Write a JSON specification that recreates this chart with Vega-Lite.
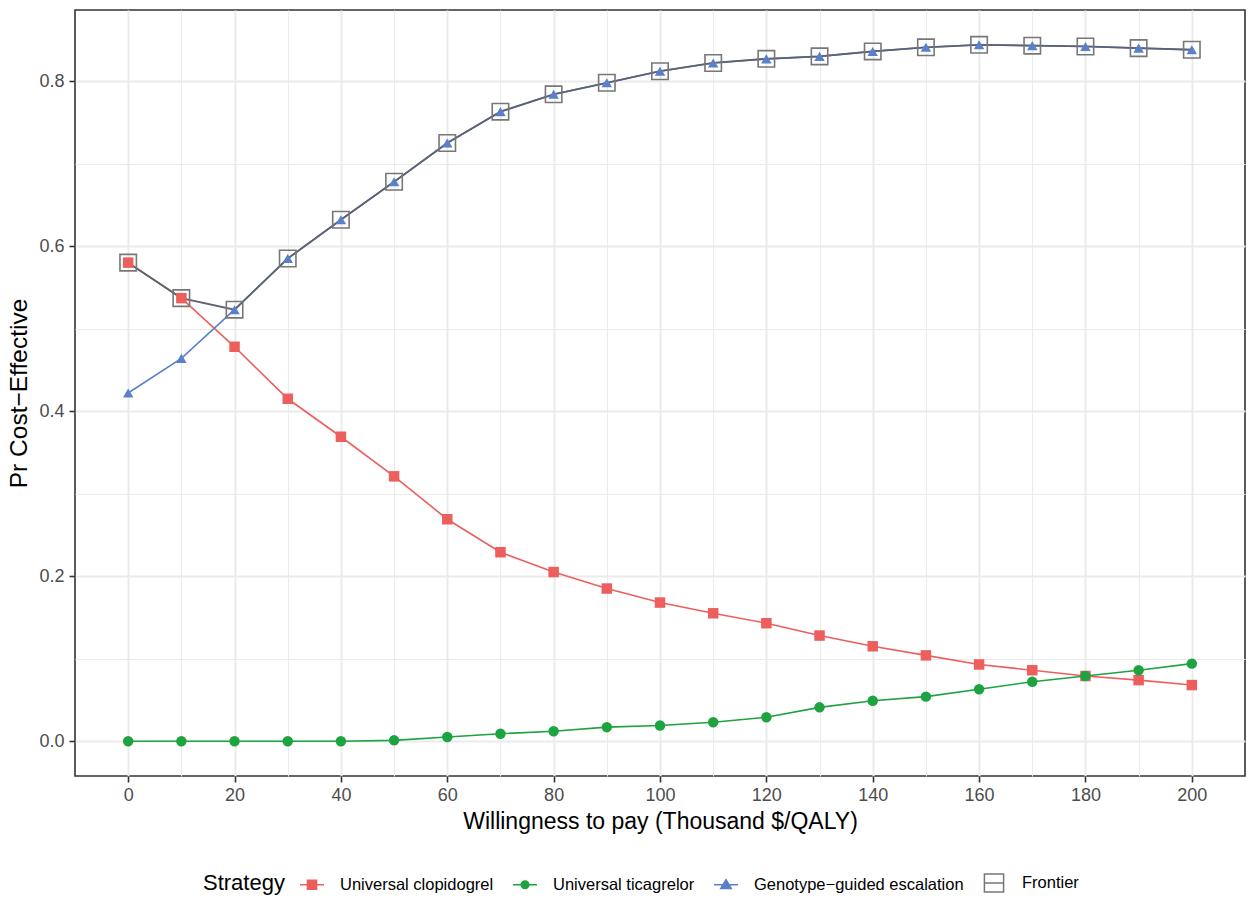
{
  "$schema": "https://vega.github.io/schema/vega-lite/v6.json",
  "autosize": "none",
  "width": 1170,
  "height": 766,
  "padding": {"left": 75, "top": 10, "right": 10, "bottom": 122},
  "background": "white",
  "config": {
    "font": "Liberation Sans",
    "view": {"stroke": "#333333", "strokeWidth": 1.6},
    "axis": {
      "domain": false,
      "labelFont": "Liberation Sans",
      "titleFont": "Liberation Sans",
      "labelFontSize": 18,
      "labelColor": "#4d4d4d",
      "titleFontSize": 23,
      "titleFontWeight": "normal",
      "titleColor": "#000000",
      "gridColor": "#ebebeb",
      "tickColor": "#333333",
      "tickWidth": 1.6,
      "tickSize": 6
    },
    "legend": {
      "labelFont": "Liberation Sans",
      "titleFont": "Liberation Sans",
      "labelFontSize": 16.5,
      "labelColor": "#000000",
      "labelLimit": 0,
      "titleFontSize": 22,
      "titleFontWeight": "normal",
      "titleColor": "#000000"
    }
  },
  "data": {
    "values": [
      {"wtp": 0, "strategy": "Universal clopidogrel", "pr": 0.580},
      {"wtp": 10, "strategy": "Universal clopidogrel", "pr": 0.537},
      {"wtp": 20, "strategy": "Universal clopidogrel", "pr": 0.478},
      {"wtp": 30, "strategy": "Universal clopidogrel", "pr": 0.415},
      {"wtp": 40, "strategy": "Universal clopidogrel", "pr": 0.369},
      {"wtp": 50, "strategy": "Universal clopidogrel", "pr": 0.321},
      {"wtp": 60, "strategy": "Universal clopidogrel", "pr": 0.269},
      {"wtp": 70, "strategy": "Universal clopidogrel", "pr": 0.229},
      {"wtp": 80, "strategy": "Universal clopidogrel", "pr": 0.205},
      {"wtp": 90, "strategy": "Universal clopidogrel", "pr": 0.185},
      {"wtp": 100, "strategy": "Universal clopidogrel", "pr": 0.168},
      {"wtp": 110, "strategy": "Universal clopidogrel", "pr": 0.155},
      {"wtp": 120, "strategy": "Universal clopidogrel", "pr": 0.143},
      {"wtp": 130, "strategy": "Universal clopidogrel", "pr": 0.128},
      {"wtp": 140, "strategy": "Universal clopidogrel", "pr": 0.115},
      {"wtp": 150, "strategy": "Universal clopidogrel", "pr": 0.104},
      {"wtp": 160, "strategy": "Universal clopidogrel", "pr": 0.093},
      {"wtp": 170, "strategy": "Universal clopidogrel", "pr": 0.086},
      {"wtp": 180, "strategy": "Universal clopidogrel", "pr": 0.079},
      {"wtp": 190, "strategy": "Universal clopidogrel", "pr": 0.074},
      {"wtp": 200, "strategy": "Universal clopidogrel", "pr": 0.068},
      {"wtp": 0, "strategy": "Universal ticagrelor", "pr": 0.000},
      {"wtp": 10, "strategy": "Universal ticagrelor", "pr": 0.000},
      {"wtp": 20, "strategy": "Universal ticagrelor", "pr": 0.000},
      {"wtp": 30, "strategy": "Universal ticagrelor", "pr": 0.000},
      {"wtp": 40, "strategy": "Universal ticagrelor", "pr": 0.000},
      {"wtp": 50, "strategy": "Universal ticagrelor", "pr": 0.001},
      {"wtp": 60, "strategy": "Universal ticagrelor", "pr": 0.005},
      {"wtp": 70, "strategy": "Universal ticagrelor", "pr": 0.009},
      {"wtp": 80, "strategy": "Universal ticagrelor", "pr": 0.012},
      {"wtp": 90, "strategy": "Universal ticagrelor", "pr": 0.017},
      {"wtp": 100, "strategy": "Universal ticagrelor", "pr": 0.019},
      {"wtp": 110, "strategy": "Universal ticagrelor", "pr": 0.023},
      {"wtp": 120, "strategy": "Universal ticagrelor", "pr": 0.029},
      {"wtp": 130, "strategy": "Universal ticagrelor", "pr": 0.041},
      {"wtp": 140, "strategy": "Universal ticagrelor", "pr": 0.049},
      {"wtp": 150, "strategy": "Universal ticagrelor", "pr": 0.054},
      {"wtp": 160, "strategy": "Universal ticagrelor", "pr": 0.063},
      {"wtp": 170, "strategy": "Universal ticagrelor", "pr": 0.072},
      {"wtp": 180, "strategy": "Universal ticagrelor", "pr": 0.079},
      {"wtp": 190, "strategy": "Universal ticagrelor", "pr": 0.086},
      {"wtp": 200, "strategy": "Universal ticagrelor", "pr": 0.094},
      {"wtp": 0, "strategy": "Genotype−guided escalation", "pr": 0.422},
      {"wtp": 10, "strategy": "Genotype−guided escalation", "pr": 0.464},
      {"wtp": 20, "strategy": "Genotype−guided escalation", "pr": 0.523},
      {"wtp": 30, "strategy": "Genotype−guided escalation", "pr": 0.585},
      {"wtp": 40, "strategy": "Genotype−guided escalation", "pr": 0.632},
      {"wtp": 50, "strategy": "Genotype−guided escalation", "pr": 0.678},
      {"wtp": 60, "strategy": "Genotype−guided escalation", "pr": 0.725},
      {"wtp": 70, "strategy": "Genotype−guided escalation", "pr": 0.763},
      {"wtp": 80, "strategy": "Genotype−guided escalation", "pr": 0.784},
      {"wtp": 90, "strategy": "Genotype−guided escalation", "pr": 0.798},
      {"wtp": 100, "strategy": "Genotype−guided escalation", "pr": 0.812},
      {"wtp": 110, "strategy": "Genotype−guided escalation", "pr": 0.822},
      {"wtp": 120, "strategy": "Genotype−guided escalation", "pr": 0.827},
      {"wtp": 130, "strategy": "Genotype−guided escalation", "pr": 0.830},
      {"wtp": 140, "strategy": "Genotype−guided escalation", "pr": 0.836},
      {"wtp": 150, "strategy": "Genotype−guided escalation", "pr": 0.841},
      {"wtp": 160, "strategy": "Genotype−guided escalation", "pr": 0.844},
      {"wtp": 170, "strategy": "Genotype−guided escalation", "pr": 0.843},
      {"wtp": 180, "strategy": "Genotype−guided escalation", "pr": 0.842},
      {"wtp": 190, "strategy": "Genotype−guided escalation", "pr": 0.840},
      {"wtp": 200, "strategy": "Genotype−guided escalation", "pr": 0.838},
      {"wtp": 0, "strategy": "Frontier", "pr": 0.580},
      {"wtp": 10, "strategy": "Frontier", "pr": 0.537},
      {"wtp": 20, "strategy": "Frontier", "pr": 0.523},
      {"wtp": 30, "strategy": "Frontier", "pr": 0.585},
      {"wtp": 40, "strategy": "Frontier", "pr": 0.632},
      {"wtp": 50, "strategy": "Frontier", "pr": 0.678},
      {"wtp": 60, "strategy": "Frontier", "pr": 0.725},
      {"wtp": 70, "strategy": "Frontier", "pr": 0.763},
      {"wtp": 80, "strategy": "Frontier", "pr": 0.784},
      {"wtp": 90, "strategy": "Frontier", "pr": 0.798},
      {"wtp": 100, "strategy": "Frontier", "pr": 0.812},
      {"wtp": 110, "strategy": "Frontier", "pr": 0.822},
      {"wtp": 120, "strategy": "Frontier", "pr": 0.827},
      {"wtp": 130, "strategy": "Frontier", "pr": 0.830},
      {"wtp": 140, "strategy": "Frontier", "pr": 0.836},
      {"wtp": 150, "strategy": "Frontier", "pr": 0.841},
      {"wtp": 160, "strategy": "Frontier", "pr": 0.844},
      {"wtp": 170, "strategy": "Frontier", "pr": 0.843},
      {"wtp": 180, "strategy": "Frontier", "pr": 0.842},
      {"wtp": 190, "strategy": "Frontier", "pr": 0.840},
      {"wtp": 200, "strategy": "Frontier", "pr": 0.838}
    ]
  },
  "encoding": {
    "x": {
      "field": "wtp",
      "type": "quantitative",
      "scale": {"domain": [-10, 210], "nice": false, "zero": false},
      "axis": {
        "title": "Willingness to pay (Thousand $/QALY)",
        "values": [0,10,20,30,40,50,60,70,80,90,100,110,120,130,140,150,160,170,180,190,200],
        "labelExpr": "datum.value % 20 === 0 ? datum.label : ''",
        "tickOpacity": {"condition": {"test": "datum.value % 20 === 0", "value": 1}, "value": 0},
        "gridWidth": {"condition": {"test": "datum.value % 20 === 0", "value": 2}, "value": 1},
        "labelPadding": 4,
        "titlePadding": 6,
        "labelFlush": false,
        "labelOverlap": false
      }
    },
    "y": {
      "field": "pr",
      "type": "quantitative",
      "scale": {"domain": [-0.0422, 0.8862], "nice": false, "zero": false},
      "axis": {
        "title": "Pr Cost−Effective",
        "titleFontSize": 24.5,
        "values": [0, 0.1, 0.2, 0.3, 0.4, 0.5, 0.6, 0.7, 0.8],
        "labelExpr": "round(datum.value * 10) % 2 === 0 ? format(datum.value, '.1f') : ''",
        "tickOpacity": {"condition": {"test": "round(datum.value * 10) % 2 === 0", "value": 1}, "value": 0},
        "gridWidth": {"condition": {"test": "round(datum.value * 10) % 2 === 0", "value": 2}, "value": 1},
        "labelPadding": 5,
        "titlePadding": 7,
        "labelFlush": false,
        "labelOverlap": false
      }
    }
  },
  "layer": [
    {
      "transform": [{"filter": "datum.strategy !== 'Frontier'"}],
      "mark": {"type": "line", "strokeWidth": 1.6},
      "encoding": {
        "color": {
          "field": "strategy",
          "type": "nominal",
          "scale": {
            "domain": ["Universal clopidogrel", "Universal ticagrelor", "Genotype−guided escalation", "Frontier"],
            "range": ["#ec5f5d", "#1da33f", "#5a80c9", "#777777"]
          },
          "legend": {
            "title": "Strategy",
            "orient": "none",
            "legendX": 128,
            "legendY": 860,
            "direction": "horizontal",
            "titleOrient": "left",
            "titlePadding": 14,
            "titleBaseline": "middle",
            "symbolSize": 576,
            "symbolStrokeWidth": 1.5,
            "labelOffset": 15,
            "labelLimit": 0,
            "columnPadding": 16,
            "labelBaseline": "middle",
            "encode": {
              "symbols": {
                "update": {
                  "shape": {"signal": "datum.value === 'Universal clopidogrel' ? 'M-1,0H1M-0.38,-0.38H0.38V0.38H-0.38Z' : datum.value === 'Universal ticagrelor' ? 'M-1,0H1M0.32,0A0.32,0.32,0,1,1,-0.32,0A0.32,0.32,0,1,1,0.32,0Z' : datum.value === 'Frontier' ? 'M-0.85,0H0.85M-0.8,-0.75H0.8V0.75H-0.8Z' : 'M-1,0H1M0,-0.42L0.44,0.32H-0.44Z'"},
                  "fill": {"signal": "datum.value === 'Universal clopidogrel' ? '#ec5f5d' : datum.value === 'Universal ticagrelor' ? '#1da33f' : datum.value === 'Frontier' ? '#ffffff' : '#5a80c9'"},
                  "fillOpacity": {"signal": "datum.value === 'Frontier' ? 0 : 1"},
                  "stroke": {"signal": "datum.value === 'Universal clopidogrel' ? '#ec5f5d' : datum.value === 'Universal ticagrelor' ? '#1da33f' : datum.value === 'Frontier' ? '#777777' : '#5a80c9'"},
                  "strokeOpacity": {"value": 1},
                  "strokeWidth": {"value": 1.5},
                  "opacity": {"value": 1}
                }
              }
            }
          }
        }
      }
    },
    {
      "transform": [{"filter": "datum.strategy === 'Frontier'"}],
      "mark": {"type": "line", "color": "#5d6272", "strokeWidth": 1.8},
      "encoding": {}
    },
    {
      "transform": [{"filter": "datum.strategy !== 'Frontier'"}],
      "mark": {"type": "point", "filled": true, "opacity": 1, "size": 110},
      "encoding": {
        "color": {"field": "strategy", "type": "nominal"},
        "shape": {
          "field": "strategy",
          "type": "nominal",
          "scale": {
            "domain": ["Universal clopidogrel", "Universal ticagrelor", "Genotype−guided escalation"],
            "range": ["square", "circle", "triangle-up"]
          },
          "legend": null
        }
      }
    },
    {
      "transform": [{"filter": "datum.strategy === 'Frontier'"}],
      "mark": {"type": "point", "shape": "square", "filled": false, "size": 270, "color": "#777777", "strokeWidth": 1.6, "opacity": 1},
      "encoding": {}
    }
  ]
}
